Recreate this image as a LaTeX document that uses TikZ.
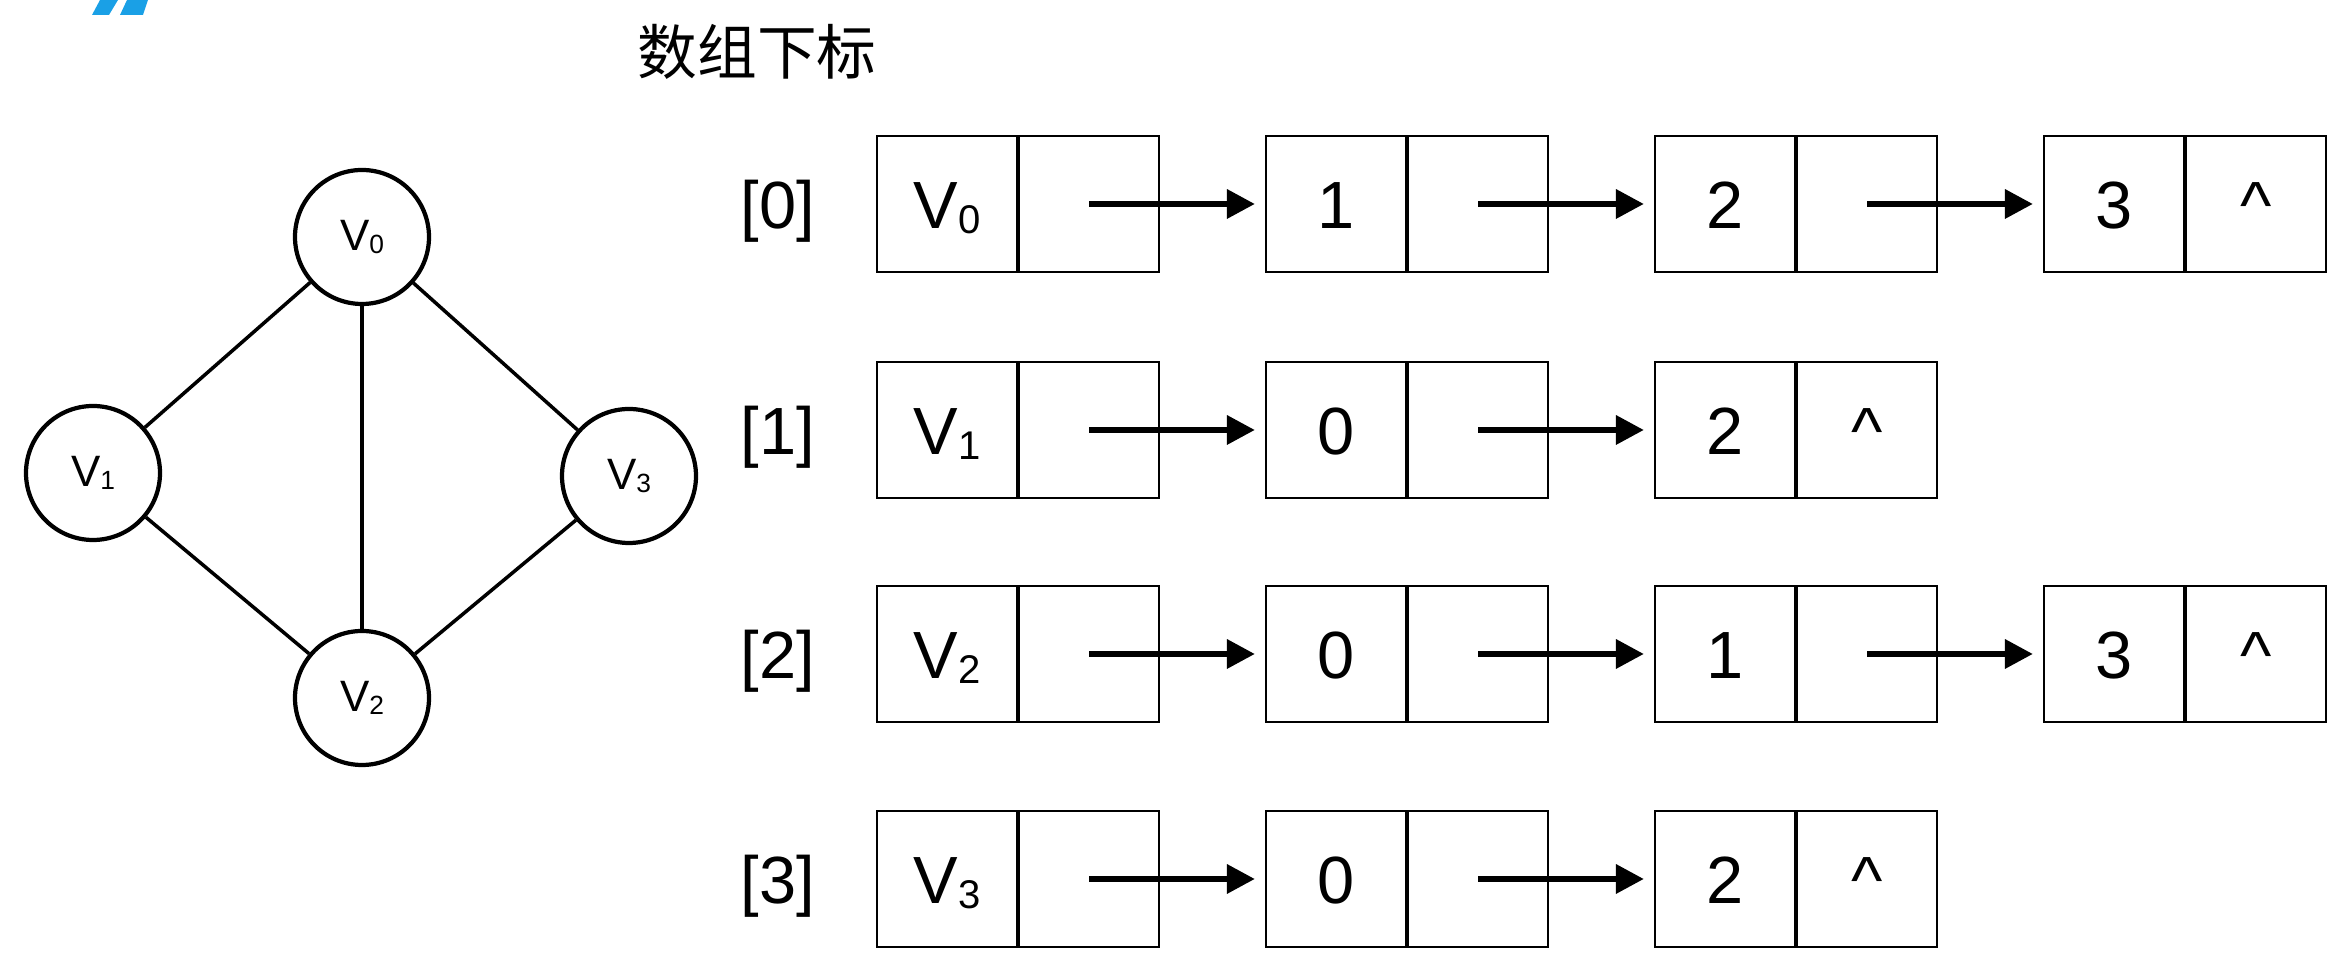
\documentclass[tikz,border=0pt]{standalone}
\usepackage{fontspec}
\setmainfont{Liberation Sans}
\newfontfamily\cjkfont{Noto Sans CJK SC}
\usepackage{xcolor}
\usepackage{graphicx}
\usetikzlibrary{arrows.meta,positioning}
\definecolor{markblue}{HTML}{1AA0E6}
\newcommand{\vx}[1]{V\raisebox{-0.08em}{\scalebox{0.6}{#1}}}

\begin{document}
\begin{tikzpicture}
	\tikzstyle{every node}=[font=\fontsize{19}{23}\selectfont]
	\tikzstyle{vertex}=[draw, circle, line width=1.2pt, minimum size=1.34cm, inner sep=0pt, font=\fontsize{12.5}{15}\selectfont]
	\tikzstyle{cell}=[draw, rectangle, line width=0.6pt, minimum width=1.4cm, minimum height=1.36cm, inner sep=0pt, text height=13.7pt, text depth=0pt]
	\tikzstyle{idx}=[text height=13.7pt, text depth=0pt]
	\tikzstyle{link}=[line width=1.8pt, shorten >=0.1cm, -{Triangle[length=0.28cm, width=0.28cm]}]
	\useasboundingbox (0,0) rectangle (23.47,9.71);
	% corner mark
	\fill [markblue] (0.92,9.56) -- (1.09,9.56) -- (1.18,9.71) -- (1.00,9.71) -- cycle;
	\fill [markblue] (1.20,9.56) -- (1.43,9.56) -- (1.48,9.71) -- (1.27,9.71) -- cycle;
	% graph
	\node [vertex] (v0) at (3.62,7.34) {\vx{0}};
	\node [vertex] (v1) at (0.93,4.98) {\vx{1}};
	\node [vertex] (v2) at (3.62,2.73) {\vx{2}};
	\node [vertex] (v3) at (6.29,4.95) {\vx{3}};
	\draw [line width=1pt] (v0) -- (v1);
	\draw [line width=1pt] (v0) -- (v2);
	\draw [line width=1pt] (v0) -- (v3);
	\draw [line width=1pt] (v1) -- (v2);
	\draw [line width=1pt] (v3) -- (v2);
	% adjacency list
	\node [font=\cjkfont\fontsize{17}{20}\selectfont] (title) at (7.57,9.19) {数组下标};
	\node [idx] (i0) at (7.78,7.67) {[0]};
	\node [idx] (i1) at (7.78,5.41) {[1]};
	\node [idx] (i2) at (7.78,3.17) {[2]};
	\node [idx] (i3) at (7.78,0.92) {[3]};
	% row 0
	\node [cell] (n00) at (9.47,7.67) {\vx{0}};
	\node [cell, right=0pt of n00] (p00) {};
	\node [cell] (n01) at (13.36,7.67) {1};
	\node [cell, right=0pt of n01] (p01) {};
	\node [cell] (n02) at (17.25,7.67) {2};
	\node [cell, right=0pt of n02] (p02) {};
	\node [cell] (n03) at (21.14,7.67) {3};
	\node [cell, right=0pt of n03] (p03) {\textasciicircum};
	\draw [link] (p00.center) -- (n01);
	\draw [link] (p01.center) -- (n02);
	\draw [link] (p02.center) -- (n03);
	% row 1
	\node [cell] (n10) at (9.47,5.41) {\vx{1}};
	\node [cell, right=0pt of n10] (p10) {};
	\node [cell] (n11) at (13.36,5.41) {0};
	\node [cell, right=0pt of n11] (p11) {};
	\node [cell] (n12) at (17.25,5.41) {2};
	\node [cell, right=0pt of n12] (p12) {\textasciicircum};
	\draw [link] (p10.center) -- (n11);
	\draw [link] (p11.center) -- (n12);
	% row 2
	\node [cell] (n20) at (9.47,3.17) {\vx{2}};
	\node [cell, right=0pt of n20] (p20) {};
	\node [cell] (n21) at (13.36,3.17) {0};
	\node [cell, right=0pt of n21] (p21) {};
	\node [cell] (n22) at (17.25,3.17) {1};
	\node [cell, right=0pt of n22] (p22) {};
	\node [cell] (n23) at (21.14,3.17) {3};
	\node [cell, right=0pt of n23] (p23) {\textasciicircum};
	\draw [link] (p20.center) -- (n21);
	\draw [link] (p21.center) -- (n22);
	\draw [link] (p22.center) -- (n23);
	% row 3
	\node [cell] (n30) at (9.47,0.92) {\vx{3}};
	\node [cell, right=0pt of n30] (p30) {};
	\node [cell] (n31) at (13.36,0.92) {0};
	\node [cell, right=0pt of n31] (p31) {};
	\node [cell] (n32) at (17.25,0.92) {2};
	\node [cell, right=0pt of n32] (p32) {\textasciicircum};
	\draw [link] (p30.center) -- (n31);
	\draw [link] (p31.center) -- (n32);
\end{tikzpicture}
\end{document}
